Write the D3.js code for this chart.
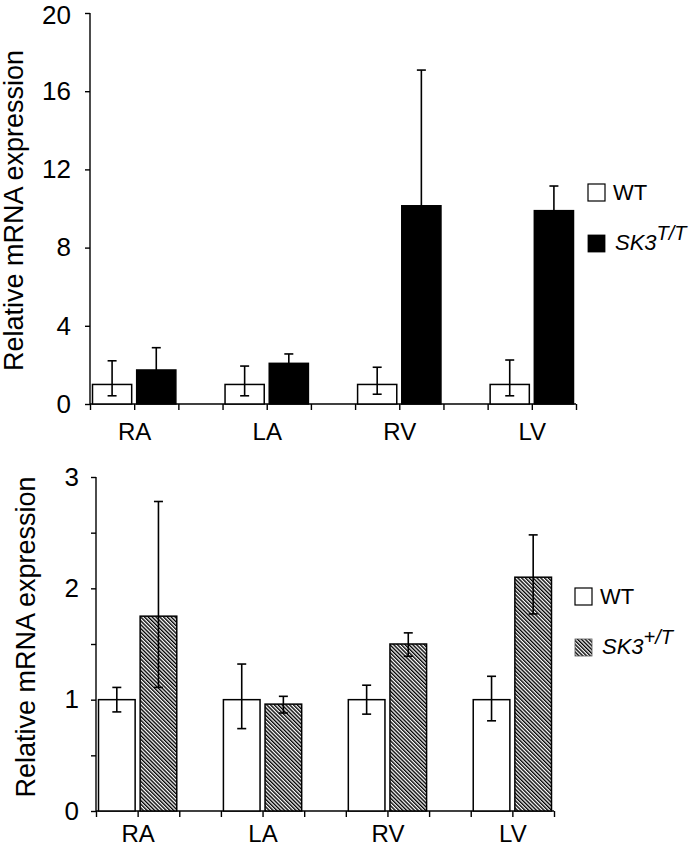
<!DOCTYPE html>
<html>
<head>
<meta charset="utf-8">
<script src="https://cdn.jsdelivr.net/npm/d3@7"></script>
<style>
  body { margin: 0; background: #fff; }
  svg { display: block; font-family: Arial, 'Liberation Sans', sans-serif; }
</style>
</head>
<body>
<div id="chart"></div>
<script>
// categories shared by both panels
const categories = ['RA', 'LA', 'RV', 'LV'];

// top panel: WT vs SK3 T/T
const topWT = [1, 1, 1, 1];
const topWTHigh = [2.21, 1.94, 1.88, 2.25];
const topWTLow = [0.42, 0.42, 0.5, 0.42];
const topSK = [1.74, 2.08, 10.14, 9.89];
const topSKHigh = [2.88, 2.56, 17.08, 11.15];
const topSKLow = [0.6, 1.6, 6.09, 8.73];
const topTicks = [0, 4, 8, 12, 16, 20];

// bottom panel: WT vs SK3 +/T
const botWT = [1, 1, 1, 1];
const botWTHigh = [1.11, 1.32, 1.13, 1.21];
const botWTLow = [0.89, 0.74, 0.87, 0.81];
const botSK = [1.75, 0.96, 1.5, 2.1];
const botSKHigh = [2.78, 1.03, 1.6, 2.48];
const botSKLow = [1.11, 0.88, 1.39, 1.77];
const botTicks = [0, 1, 2, 3];
const botMinorTicks = [0, 0.5, 1, 1.5, 2, 2.5, 3];

const width = 700;
const height = 855;

const svg = d3.select('#chart').append('svg')
  .attr('width', width)
  .attr('height', height);

// hatch pattern for the SK3 +/T bars (dense "\" stripes)
svg.append('defs').append('pattern')
  .attr('id', 'hatch')
  .attr('patternUnits', 'userSpaceOnUse')
  .attr('width', 2.7)
  .attr('height', 2.7)
  .attr('patternTransform', 'rotate(-45)')
  .call((p) => {
    p.append('rect').attr('width', 2.7).attr('height', 2.7).attr('fill', '#fff');
    p.append('line')
      .attr('x1', 0.7).attr('y1', 0).attr('x2', 0.7).attr('y2', 2.7)
      .attr('stroke', '#000').attr('stroke-width', 1.4);
  });

const drawPanel = (opt) => {
  const g = svg.append('g');
  const nSlots = categories.length * 3 - 1;

  const x = d3.scaleLinear().domain([0, nSlots]).range([opt.left, opt.right]);
  const y = d3.scaleLinear().domain(opt.domain).range([opt.bottom, opt.top]);
  const slotW = x(1) - x(0);
  const pad = 2.5;

  // y axis
  const yAxis = d3.axisLeft(y)
    .tickValues(opt.minorTicks || opt.ticks)
    .tickSize(5)
    .tickPadding(opt.yPadding)
    .tickFormat((d) => (opt.ticks.includes(d) ? d : ''));

  g.append('g')
    .attr('transform', `translate(${opt.left},0)`)
    .call(yAxis)
    .call((a) => a.select('.domain').attr('d', `M0,${opt.top}V${opt.bottom}`))
    .call((a) => a.selectAll('path, line').attr('stroke', '#000').attr('stroke-width', 1.4))
    .call((a) => a.selectAll('text').attr('font-size', 26).attr('fill', '#000')
      .attr('font-family', 'Arial, Liberation Sans, sans-serif'))
    // keep the top label inside the page
    .call((a) => a.selectAll('.tick text')
      .filter((d) => d === opt.domain[1])
      .attr('dy', opt.topLabelDy));

  // x axis, ticks at every slot boundary, labels between the two bars
  const xAxis = d3.axisBottom(x)
    .tickValues(d3.range(nSlots + 1))
    .tickSize(6)
    .tickPadding(opt.xPadding)
    .tickFormat((d) => (d % 3 === 1 ? categories[(d - 1) / 3] : ''));

  g.append('g')
    .attr('transform', `translate(0,${opt.bottom})`)
    .call(xAxis)
    .call((a) => a.select('.domain').attr('d', `M${opt.left},0H${opt.right}`))
    .call((a) => a.selectAll('path, line').attr('stroke', '#000').attr('stroke-width', 1.4))
    .call((a) => a.selectAll('text').attr('font-size', 24).attr('fill', '#000')
      .attr('font-family', 'Arial, Liberation Sans, sans-serif'));

  // y title
  g.append('text')
    .attr('transform', `translate(${opt.titleX},${(opt.top + opt.bottom) / 2 + opt.titleShift}) rotate(-90)`)
    .attr('text-anchor', 'middle')
    .attr('font-size', 27)
    .text('Relative mRNA expression');

  const series = [
    {vals: opt.wt, hi: opt.wtHigh, lo: opt.wtLow, slot: 0, fill: '#fff'},
    {vals: opt.sk, hi: opt.skHigh, lo: opt.skLow, slot: 1, fill: opt.skFill},
  ];

  series.forEach((s) => {
    const bars = g.append('g')
      .selectAll('g')
      .data(categories.map((c, i) => ({c, v: s.vals[i], hi: s.hi[i], lo: s.lo[i], i})))
      .enter().append('g');

    bars.append('rect')
      .attr('x', (d) => x(d.i * 3 + s.slot) + pad)
      .attr('y', (d) => y(d.v))
      .attr('width', slotW - 2 * pad)
      .attr('height', (d) => y(0) - y(d.v))
      .attr('fill', s.fill)
      .attr('stroke', '#000')
      .attr('stroke-width', 1.5);

    const cx = (d) => x(d.i * 3 + s.slot) + slotW / 2;

    bars.append('line')
      .attr('x1', cx).attr('x2', cx)
      .attr('y1', (d) => y(d.hi)).attr('y2', (d) => y(d.lo))
      .attr('stroke', '#000').attr('stroke-width', 1.6);

    ['hi', 'lo'].forEach((k) => {
      bars.append('line')
        .attr('x1', (d) => cx(d) - 4.5).attr('x2', (d) => cx(d) + 4.5)
        .attr('y1', (d) => y(d[k])).attr('y2', (d) => y(d[k]))
        .attr('stroke', '#000').attr('stroke-width', 1.6);
    });
  });

  // legend
  const lg = g.append('g').attr('transform', `translate(${opt.legendX},${opt.legendY})`);
  lg.append('rect')
    .attr('x', 0).attr('y', 0).attr('width', 17).attr('height', 17)
    .attr('fill', '#fff').attr('stroke', '#000').attr('stroke-width', 1.2);
  lg.append('text')
    .attr('x', opt.legendTextX).attr('y', 16)
    .attr('font-size', 22)
    .text('WT');
  lg.append('rect')
    .attr('x', 0).attr('y', 51).attr('width', 17).attr('height', 17)
    .attr('fill', opt.skFill).attr('stroke', opt.legendStroke).attr('stroke-width', 0.8);
  const t = lg.append('text')
    .attr('x', opt.legendTextX + 2).attr('y', 66)
    .attr('font-size', 22)
    .attr('font-style', 'italic');
  t.append('tspan').text('SK3');
  t.append('tspan').attr('dy', -10).attr('font-size', 20).text(opt.skSup);
};

drawPanel({
  left: 90, right: 576, top: 13, bottom: 404,
  domain: [0, 20], ticks: topTicks, topLabelDy: '0.4em',
  yPadding: 14, xPadding: 13,
  titleX: 23, titleShift: 2,
  wt: topWT, wtHigh: topWTHigh, wtLow: topWTLow,
  sk: topSK, skHigh: topSKHigh, skLow: topSKLow,
  skFill: '#000', legendStroke: '#000', skSup: 'T/T',
  legendX: 588, legendY: 184, legendTextX: 25,
});

drawPanel({
  left: 96, right: 554, top: 477, bottom: 811,
  domain: [0, 3], ticks: botTicks, minorTicks: botMinorTicks, topLabelDy: '0.32em',
  yPadding: 12, xPadding: 8,
  titleX: 35, titleShift: -7,
  wt: botWT, wtHigh: botWTHigh, wtLow: botWTLow,
  sk: botSK, skHigh: botSKHigh, skLow: botSKLow,
  skFill: 'url(#hatch)', legendStroke: '#555', skSup: '+/T',
  legendX: 575, legendY: 588, legendTextX: 25,
});
</script>
</body>
</html>
